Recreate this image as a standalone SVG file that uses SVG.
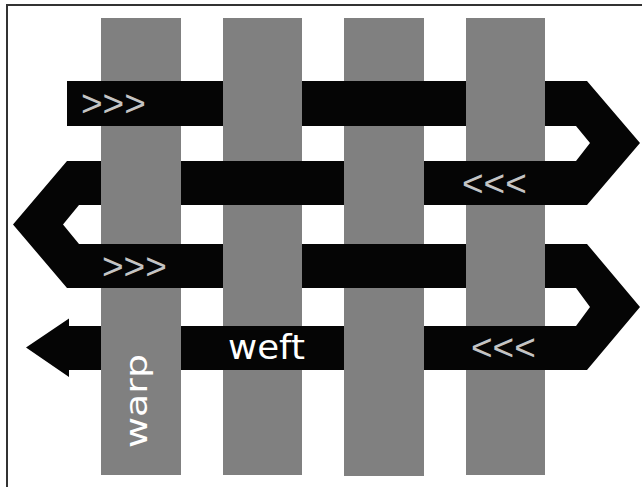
<svg xmlns="http://www.w3.org/2000/svg" width="642" height="487" viewBox="0 0 642 487">
  <style>
    .warp { fill: #808080; }
    .weft { fill: #050505; }
    .chev { font-family: "Liberation Sans", Arial, sans-serif; font-size: 37px; fill: #c4c4c4; }
    .lbl { font-family: "DejaVu Sans", sans-serif; fill: #ffffff; }
  </style>
  <rect x="0" y="0" width="642" height="487" fill="#ffffff"/>
  <rect id="frame" x="7" y="5" width="700" height="600" fill="none" stroke="#333333" stroke-width="2"/>

  <g id="warp-threads">
    <rect id="warp-1" class="warp" x="101" y="18" width="80" height="457"/>
    <rect id="warp-2" class="warp" x="223" y="18" width="79" height="457"/>
    <rect id="warp-3" class="warp" x="344" y="18" width="80" height="458"/>
    <rect id="warp-4" class="warp" x="466" y="18" width="79" height="457"/>
  </g>

  <g id="weft">
    <polygon class="weft" points="67,81 587,81 640,143 587,205 79,205 63,224.5 79,244 587,244 640,307 587,370 69,370 69,377 26,347.5 69,318.5 69,326 576,326 590,307 576,288 67,288 13,224.5 67,161 576,161 590,143 576,126 67,126"/>
  </g>

  <g id="warp-over">
    <rect class="warp" x="101" y="160" width="80" height="46"/>
    <rect class="warp" x="101" y="325" width="80" height="46"/>
    <rect class="warp" x="223" y="80" width="79" height="47"/>
    <rect class="warp" x="223" y="243" width="79" height="46"/>
    <rect class="warp" x="344" y="160" width="80" height="46"/>
    <rect class="warp" x="344" y="325" width="80" height="46"/>
    <rect class="warp" x="466" y="80" width="79" height="47"/>
    <rect class="warp" x="466" y="243" width="79" height="46"/>
  </g>

  <g id="labels">
    <text class="chev" x="81" y="116">&gt;&gt;&gt;</text>
    <text class="chev" x="462" y="196">&lt;&lt;&lt;</text>
    <text class="chev" x="102" y="279">&gt;&gt;&gt;</text>
    <text class="chev" x="471" y="360">&lt;&lt;&lt;</text>
    <text class="lbl" x="228" y="359" font-size="34" textLength="77" lengthAdjust="spacingAndGlyphs">weft</text>
    <text class="lbl" transform="translate(147,448) rotate(-90)" x="0" y="0" font-size="31" textLength="94" lengthAdjust="spacingAndGlyphs">warp</text>
  </g>
</svg>
